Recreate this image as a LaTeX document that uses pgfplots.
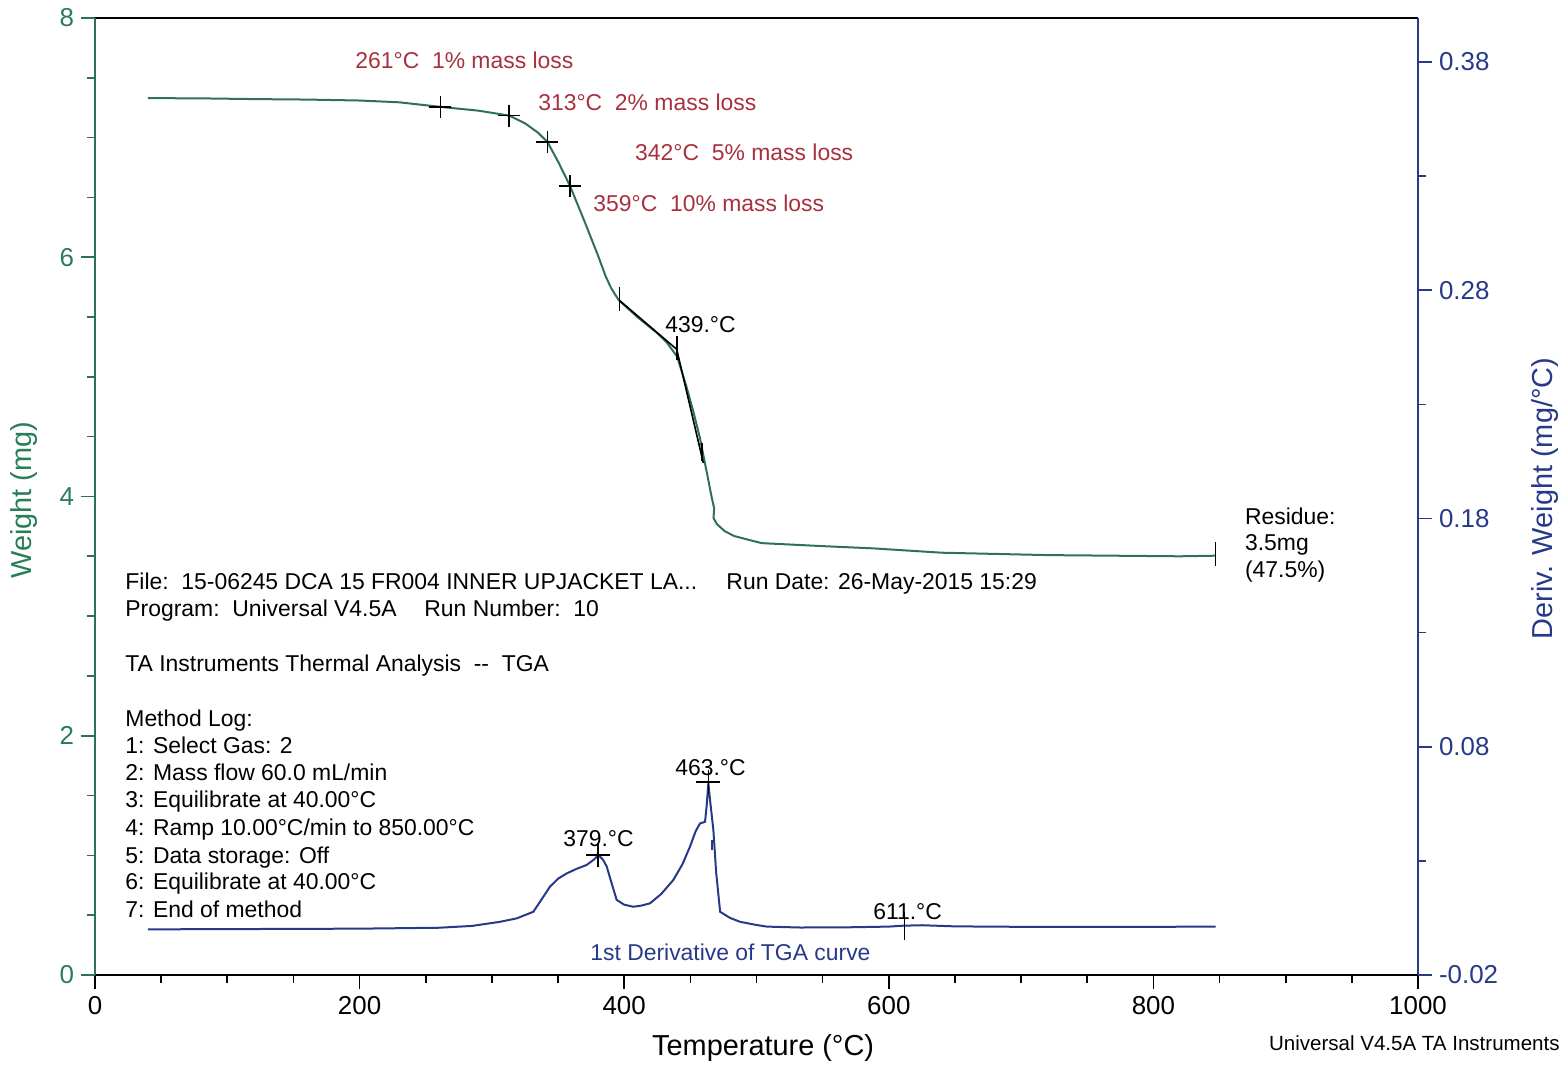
\documentclass[border=0pt]{standalone}
\usepackage{fontspec}
\setmainfont{Liberation Sans}
\usepackage{pgfplots}
\pgfplotsset{compat=1.18}
\definecolor{wgreen}{RGB}{48,112,88}
\definecolor{wlab}{RGB}{40,125,90}
\definecolor{dblue}{RGB}{38,58,135}
\definecolor{ared}{RGB}{168,48,62}
\newcommand{\fs}[1]{\fontsize{#1}{#1}\selectfont}
\begin{document}
\begin{tikzpicture}
\begin{axis}[
 name=w, scale only axis, width=661.5bp, height=478.5bp,
 xmin=0, xmax=1000, ymin=0, ymax=8,
 xtick={0,200,400,600,800,1000}, minor xtick={50,100,...,950},
 ytick={0,2,4,6,8}, minor ytick={0.5,1,...,7.5},
 xtick pos=left, ytick pos=left,
 tick align=outside,
 major tick length=7bp, minor tick length=4bp,
 separate axis lines,
 x axis line style={black, line width=1.1bp},
 y axis line style={wgreen, line width=1.1bp},
 xtick style={black, line width=0.8bp}, ytick style={wgreen, line width=0.8bp},
 xticklabel style={black}, yticklabel style={wlab},
 tick label style={font=\fs{13}},
 /pgf/number format/assume math mode=true,
 /pgf/number format/1000 sep={},
 xlabel={Temperature (°C)}, ylabel={Weight (mg)},
 xlabel style={font=\fs{14.5}, at={(axis description cs:0.505,-0.0763)}, anchor=center},
 ylabel style={font=\fs{14.5}, text=wlab, at={(axis description cs:-0.0537,0.496)}, anchor=center},
 clip=false,
]
\coordinate (bl) at (rel axis cs:-0.0718,-0.0940);
\coordinate (tr) at (rel axis cs:1.1111,1.0188);
% weight curve
\addplot[wgreen, line width=1bp] coordinates {
(40,7.330)(80,7.328)(120,7.322)(160,7.318)(200,7.310)(230,7.295)(261,7.257)
(290,7.225)(313,7.184)(325,7.12)(335,7.04)(342,6.963)(350,6.80)(359,6.597)
(370,6.30)(380,6.02)(386,5.84)(390,5.745)(393,5.69)(396,5.64)(410,5.50)(425,5.365)
(432,5.29)(440,5.17)(447,4.92)(452,4.72)(457,4.50)(463,4.17)(466,4.00)
(468,3.90)(467.5,3.82)(470,3.77)(476,3.71)(483,3.67)(495,3.635)(504,3.61)
(550,3.585)(587,3.567)(640,3.53)(720,3.51)(820,3.50)(847,3.505)};
% construction marks
\addplot[only marks, mark=+, mark size=5.5bp, black, line width=0.8bp]
 coordinates {(261,7.257)(313,7.184)(342,6.963)(359,6.597)};
\addplot[only marks, mark=|, mark size=6bp, black, line width=0.8bp]
 coordinates {(396.3,5.65)(439.7,5.24)(847,3.52)};
\addplot[only marks, mark=|, mark size=4.5bp, black, line width=1bp]
 coordinates {(458.6,4.37)};
\addplot[black, line width=0.8bp] coordinates {(396.3,5.64)(439.7,5.23)};
\addplot[black, line width=0.8bp] coordinates {(439.7,5.23)(459.8,4.28)};
% red labels
\node[anchor=base west, text=ared, font=\fs{11.5}, inner sep=0] at (196.5,7.575) {261°C\ \ 1\% mass loss};
\node[anchor=base west, text=ared, font=\fs{11.5}, inner sep=0] at (334.8,7.224) {313°C\ \ 2\% mass loss};
\node[anchor=base west, text=ared, font=\fs{11.5}, inner sep=0] at (408,6.806) {342°C\ \ 5\% mass loss};
\node[anchor=base west, text=ared, font=\fs{11.5}, inner sep=0] at (376.4,6.38) {359°C\ \ 10\% mass loss};
% black labels
\node[anchor=base west, font=\fs{11.5}, inner sep=0] at (430.8,5.368) {439.°C};
\node[anchor=base west, font=\fs{11.5}, inner sep=0] at (353.7,1.075) {379.°C};
\node[anchor=base west, font=\fs{11.5}, inner sep=0] at (438.4,1.664) {463.°C};
\node[anchor=base west, font=\fs{11.5}, inner sep=0] at (588,0.46) {611.°C};
\node[anchor=base west, text=dblue, font=\fs{11.5}, inner sep=0] at (374.1,0.125) {1st Derivative of TGA curve};
\node[anchor=base west, font=\fs{11.5}, inner sep=0] at (869,3.763) {Residue:};
\node[anchor=base west, font=\fs{11.5}, inner sep=0] at (869,3.545) {3.5mg};
\node[anchor=base west, font=\fs{11.5}, inner sep=0] at (869,3.319) {(47.5\%)};
% info block
\node[anchor=base west, font=\fs{11.5}, inner sep=0] at (22.7,3.219) {File:\ \ 15-06245 DCA 15 FR004 INNER UPJACKET LA...};
\node[anchor=base west, font=\fs{11.5}, inner sep=0] at (477,3.219) {Run Date: 26-May-2015 15:29};
\node[anchor=base west, font=\fs{11.5}, inner sep=0] at (22.7,2.993) {Program:\ \ Universal V4.5A};
\node[anchor=base west, font=\fs{11.5}, inner sep=0] at (248.7,2.993) {Run Number:\ \ 10};
\node[anchor=base west, font=\fs{11.5}, inner sep=0] at (22.7,2.533) {TA Instruments Thermal Analysis\ \ -{}-\ \ TGA};
\node[anchor=base west, font=\fs{11.5}, inner sep=0] at (22.7,2.074) {Method Log:};
\node[anchor=base west, font=\fs{11.5}, inner sep=0] at (22.7,1.848) {1: Select Gas: 2};
\node[anchor=base west, font=\fs{11.5}, inner sep=0] at (22.7,1.622) {2: Mass flow 60.0 mL/min};
\node[anchor=base west, font=\fs{11.5}, inner sep=0] at (22.7,1.396) {3: Equilibrate at 40.00°C};
\node[anchor=base west, font=\fs{11.5}, inner sep=0] at (22.7,1.162) {4: Ramp 10.00°C/min to 850.00°C};
\node[anchor=base west, font=\fs{11.5}, inner sep=0] at (22.7,0.936) {5: Data storage: Off};
\node[anchor=base west, font=\fs{11.5}, inner sep=0] at (22.7,0.711) {6: Equilibrate at 40.00°C};
\node[anchor=base west, font=\fs{11.5}, inner sep=0] at (22.7,0.477) {7: End of method};
\node[anchor=east, font=\fs{10.3}, inner sep=0] at (axis description cs:1.1073,-0.071) {Universal V4.5A TA Instruments};
\end{axis}
\begin{axis}[
 scale only axis, width=661.5bp, height=478.5bp,
 xmin=0, xmax=1000, ymin=-0.02, ymax=0.3993,
 axis x line=none, axis y line*=right,
 ytick={-0.02,0.08,0.18,0.28,0.38}, yticklabels={-0.02,0.08,0.18,0.28,0.38},
 minor ytick={0.03,0.13,0.23,0.33},
 tick align=outside,
 major tick length=7bp, minor tick length=4bp,
 y axis line style={dblue, line width=1.1bp},
 ytick style={dblue, line width=0.8bp},
 yticklabel style={dblue, font=\fs{13}},
 ylabel={Deriv. Weight (mg/°C)},
 ylabel style={font=\fs{14.5}, text=dblue, at={(axis description cs:1.096,0.498)}, anchor=center},
 clip=false,
]
\addplot[dblue, line width=1bp] coordinates {
(40,0.0000)(100,0.0001)(200,0.0003)(260,0.0007)(285,0.0015)(306.1,0.0033)
(318.7,0.0048)(331.3,0.0077)(338.9,0.0143)(343.9,0.0187)(350,0.0222)(356.5,0.0245)
(364,0.0265)(371.6,0.0282)(377,0.0305)(380.5,0.0326)(384,0.0305)(386.8,0.0275)
(390.5,0.0202)(394.3,0.0129)(400,0.0108)(406.9,0.0099)(413,0.0104)(419.5,0.0114)
(428,0.0155)(437.1,0.0216)(444,0.0285)(449.7,0.0362)(454,0.0430)(457.3,0.0464)
(461.1,0.0471)(462.3,0.0540)(463.6,0.0640)(465,0.0560)(467.4,0.0435)(469.5,0.0250)
(472.5,0.0077)(480,0.0050)(487.6,0.0033)(500,0.0019)(507.8,0.0012)(533,0.0008)
(570,0.0009)(600,0.0012)(611,0.0016)(625,0.0018)(650,0.0013)(700,0.0011)
(800,0.0011)(847,0.0012)};
\addplot[only marks, mark=+, mark size=6bp, black, line width=0.8bp]
 coordinates {(380.2,0.0326)(463.6,0.0645)};
\addplot[only marks, mark=|, mark size=7bp, black, line width=0.8bp]
 coordinates {(612,0.0015)};
\addplot[only marks, mark=|, mark size=2.5bp, dblue, line width=0.8bp]
 coordinates {(466.3,0.037)};
\end{axis}
\pgfresetboundingbox
\path[use as bounding box] (bl) rectangle (tr);
\end{tikzpicture}
\end{document}
